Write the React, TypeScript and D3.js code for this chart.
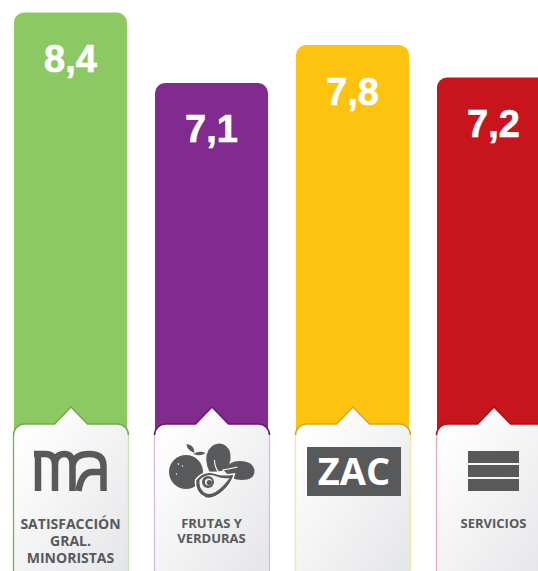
import React from 'react';
import * as d3 from 'd3';

const categories = ['ma', 'frutas', 'zac', 'servicios'];
const values = [8.4, 7.1, 7.8, 7.2];
const valueLabels = ['8,4', '7,1', '7,8', '7,2'];
const barColors = ['#8cc963', '#812b8e', '#fec30f', '#c8141c'];
const edgeColors = ['#6faa49', '#66167a', '#d3a81f', '#a90f17'];
const leftColors = ['#74b04e', '#d3bcd9', '#f3e3ac', '#e2b0b2'];
const rightColors = ['#c9e2b6', '#d3bcd9', '#f3e3ac', '#e2b0b2'];
const cardLabels = [
  ['SATISFACCIÓN', 'GRAL.', 'MINORISTAS'],
  ['FRUTAS Y', 'VERDURAS'],
  [],
  ['SERVICIOS'],
];
const labelLineHeights = [17, 15, 15, 15];
const labelSizes = [14, 13, 13, 13];
const labelBaselines = [529, 528, 528, 528];

const width = 538;
const height = 571;
const cardTop = 424;
const cornerR = 11;
const labelFont = '"Open Sans", sans-serif';
const valueFont = '"Liberation Sans", sans-serif';
const iconColor = '#58595b';

const x = d3.scaleBand<string>().domain(categories).range([14, 550]).paddingInner(28 / 141);
const y = d3.scaleLinear().domain([0, 8.4]).range([468, 12.5]);

function topRoundedBar(x0: number, x1: number, top: number, bottom: number, r: number) {
  const p = d3.path();
  p.moveTo(x0, bottom);
  p.lineTo(x0, top + r);
  p.arcTo(x0, top, x0 + r, top, r);
  p.lineTo(x1 - r, top);
  p.arcTo(x1, top, x1, top + r, r);
  p.lineTo(x1, bottom);
  p.closePath();
  return p.toString();
}

// top edge of the card: corners plus the little arrow pointing at the bar
function cardTopEdge(x0: number, x1: number, p: d3.Path, start: boolean) {
  const cx = (x0 + x1) / 2;
  if (start) p.moveTo(x0, cardTop + cornerR);
  p.arcTo(x0, cardTop, x0 + cornerR, cardTop, cornerR);
  p.lineTo(cx - 16.5, cardTop);
  p.lineTo(cx, cardTop - 17);
  p.lineTo(cx + 16.5, cardTop);
  p.lineTo(x1 - cornerR, cardTop);
  p.arcTo(x1, cardTop, x1, cardTop + cornerR, cornerR);
}

function cardShape(x0: number, x1: number) {
  const p = d3.path();
  p.moveTo(x0, height + 5);
  p.lineTo(x0, cardTop + cornerR);
  cardTopEdge(x0, x1, p, false);
  p.lineTo(x1, height + 5);
  p.closePath();
  return p.toString();
}

function cardEdge(x0: number, x1: number) {
  const p = d3.path();
  cardTopEdge(x0, x1, p, true);
  return p.toString();
}

function MaIcon() {
  return (
    <g fill="none" stroke={iconColor} strokeWidth={6.5}>
      <path d="M-32.5,20 V-17" />
      <path d="M-36.5,-17 H-25 Q-15.5,-17 -15.5,-6 V20" />
      <path d="M-15.5,-6 Q-15.5,-17 -6,-17 Q2,-17 2,-6 V20" />
      <path d="M2,-6 Q4,-17 19,-17 Q33,-17 33,-5 V20" />
      <path d="M33,1 H22 Q11,1 8,20" />
    </g>
  );
}

function FruitIcon() {
  return (
    <g fill={iconColor}>
      <circle cx={-25.5} cy={1} r={17} />
      <path d="M-17,-18 Q-25,-21 -25,-27 Q-17,-26 -17,-18 Z" />
      <path d="M-18,-17 Q-12,-21 -6,-18 Q-11,-14 -18,-17 Z" />
      <path d="M-2,1 Q-8,-12 -3,-21 Q3,-29 11,-27 Q20,-24 19,-11 Q17,-3 10,0 Z" />
      <path d="M12,-1 Q18,-10 28,-10 Q42,-10 43,0 Q43,9 30,9 Q20,9 12,-1 Z" />
      <path d="M3,-11 Q3,-4 7,1 M11,-1 Q18,-2 26,-4" fill="none" stroke="#fff" strokeWidth={1.1} />
      <path d="M-16,9 Q-8,-1 3,2 Q12,5 23,3 Q20,13 12,20 Q2,29 -6,27 Q-17,22 -16,9 Z" stroke="#fff" strokeWidth={1.4} />
      <path d="M-12,9 Q-5,2 4,5 Q11,8 18,7 Q12,16 4,21 Q-3,25 -8,21 Q-13,16 -12,9 Z" fill="#f2f2f3" />
      <circle cx={-3.5} cy={11} r={6} />
      <circle cx={-3} cy={11} r={3.6} fill="#f2f2f3" />
      <circle cx={-2.2} cy={11.6} r={2.6} />
      <circle cx={-33} cy={-7} r={0.8} fill="#fff" />
      <circle cx={-29} cy={-5} r={0.7} fill="#fff" />
      <circle cx={-35} cy={3} r={0.7} fill="#fff" />
    </g>
  );
}

function ZacIcon() {
  return (
    <g>
      <rect x={-45.5} y={-24} width={94} height={49} fill={iconColor} />
      <text x={1.5} y={14} textAnchor="middle" fontFamily={labelFont} fontWeight={700} fontSize={38} fill="#fff">ZAC</text>
    </g>
  );
}

function ServiciosIcon() {
  return (
    <g fill={iconColor}>
      <rect x={-25.5} y={-20} width={51} height={12} />
      <rect x={-25.5} y={-6} width={51} height={12} />
      <rect x={-25.5} y={8} width={51} height={12} />
    </g>
  );
}

const icons = [MaIcon, FruitIcon, ZacIcon, ServiciosIcon];

export default function App() {
  const band = x.bandwidth();
  return (
    <svg width={width} height={height} style={{ position: 'absolute', left: 0, top: 0 }}>
      <defs>
        <linearGradient id="cardFill" x1="0" y1="0" x2="1" y2="1">
          <stop offset="0.1" stopColor="#ffffff" />
          <stop offset="1" stopColor="#e4e5e7" />
        </linearGradient>
      </defs>
      {categories.map((c, i) => {
        const x0 = x(c)!;
        const x1 = x0 + band;
        const cx = x0 + band / 2;
        const Icon = icons[i];
        const cardX0 = x0 - 0.5;
        const cardX1 = x1 + 1.5;
        return (
          <g key={c}>
            <path d={topRoundedBar(x0, x1, y(values[i]), cardTop + 12, 10)} fill={barColors[i]} />
            <text
              x={cx}
              y={y(values[i]) + 59.5}
              textAnchor="middle"
              fontFamily={valueFont}
              fontWeight={700}
              fontSize={38}
              fill="#fff"
              stroke="#fff"
              strokeWidth={0.6}
            >
              {valueLabels[i]}
            </text>
            <path d={cardShape(cardX0, cardX1)} fill="url(#cardFill)" />
            <line x1={cardX0} x2={cardX0} y1={cardTop + cornerR} y2={height} stroke={leftColors[i]} strokeWidth={1.3} />
            <line x1={cardX1} x2={cardX1} y1={cardTop + cornerR} y2={height} stroke={rightColors[i]} strokeWidth={1.3} />
            <path d={cardEdge(cardX0, cardX1)} fill="none" stroke={edgeColors[i]} strokeWidth={1.5} />
            <g transform={`translate(${cx},471)`}>
              <Icon />
            </g>
            {cardLabels[i].length > 0 && (
              <text textAnchor="middle" fontFamily={labelFont} fontWeight={700} fontSize={labelSizes[i]} fill={iconColor}>
                {cardLabels[i].map((line, k) => (
                  <tspan key={line} x={cx} y={labelBaselines[i] + k * labelLineHeights[i]}>
                    {line}
                  </tspan>
                ))}
              </text>
            )}
          </g>
        );
      })}
    </svg>
  );
}
